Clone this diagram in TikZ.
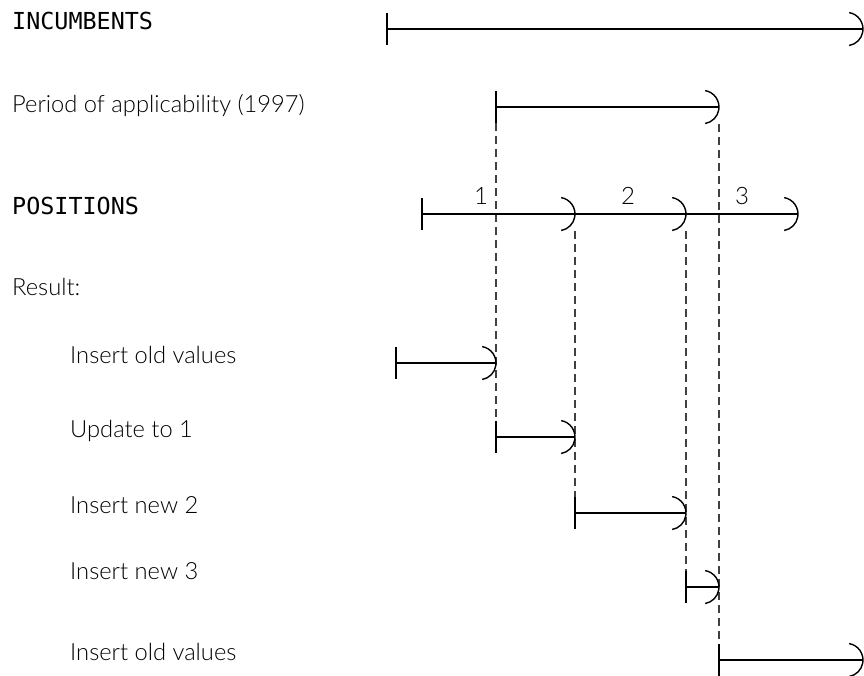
\documentclass[tikz,border=0pt]{standalone}
\usepackage{fontspec}
\setmainfont{Lato Light}
\newfontfamily\monofont{DejaVu Sans Mono}
\begin{document}
\begin{tikzpicture}[x=1pt,y=-1pt,
  lbl/.style={anchor=base west,inner sep=0pt,font=\fontsize{23.7}{28}\selectfont},
  mono/.style={anchor=base west,inner sep=0pt,font=\monofont\fontsize{23.4}{28}\selectfont},
  num/.style={anchor=base,inner sep=0pt,font=\fontsize{24}{28}\selectfont},
  ln/.style={line width=1.4pt,black},
  dsh/.style={line width=1.3pt,black!75,dash pattern=on 8pt off 5pt}]
\useasboundingbox (0,0) rectangle (864,675);
\newcommand\ivl[2]{%
  \draw[ln] (#1) -- (#2);
  \draw[ln] ([yshift=16pt]#1) -- ([yshift=-16pt]#1);
  \draw[ln] ([xshift=-13.8pt,yshift=16.4pt]#2) arc[start angle=80,end angle=-80,radius=16.7pt];}
% labels
\node[mono] (tinc) at (12,29) {INCUMBENTS};
\node[lbl] (tper) at (12,112) {Period of applicability (1997)};
\node[mono] (tpos) at (12,214) {POSITIONS};
\node[lbl] (tres) at (12,295) {Result:};
\node[lbl] (tr1) at (70,363) {Insert old values};
\node[lbl] (tr2) at (70,437) {Update to 1};
\node[lbl] (tr3) at (70,513) {Insert new 2};
\node[lbl] (tr4) at (70,579) {Insert new 3};
\node[lbl] (tr5) at (70,660) {Insert old values};
\node[num] (n1) at (481,204) {1};
\node[num] (n2) at (628,204) {2};
\node[num] (n3) at (742,204) {3};
% coordinates
\coordinate (a1) at (387,29);  \coordinate (a2) at (863,29);
\coordinate (b1) at (496,107); \coordinate (b2) at (719,107);
\coordinate (c0) at (422,214); \coordinate (c1) at (575,214);
\coordinate (c2) at (686,214); \coordinate (c3) at (798,214);
\coordinate (d1) at (396,363); \coordinate (d2) at (496,363);
\coordinate (e1) at (496,437); \coordinate (e2) at (575,437);
\coordinate (f1) at (575,513); \coordinate (f2) at (686,513);
\coordinate (g1) at (686,587); \coordinate (g2) at (719,587);
\coordinate (h1) at (719,660); \coordinate (h2) at (863,660);
% dashed guides
\draw[dsh] ([yshift=-16pt]b1) -- ([yshift=16pt]e1);
\draw[dsh] ([yshift=-17pt]b2) -- ([yshift=16pt]h1);
\draw[dsh] ([yshift=-17pt]c1) -- ([yshift=16pt]f1);
\draw[dsh] ([yshift=-17pt]c2) -- ([yshift=16pt]g1);
% intervals
\ivl{a1}{a2}
\ivl{b1}{b2}
\draw[ln] (c0) -- (c3);
\draw[ln] ([yshift=16pt]c0) -- ([yshift=-16pt]c0);
\foreach \p in {c1,c2,c3}{\draw[ln] ([xshift=-13.8pt,yshift=16.4pt]\p) arc[start angle=80,end angle=-80,radius=16.7pt];}
\ivl{d1}{d2}
\ivl{e1}{e2}
\ivl{f1}{f2}
\ivl{g1}{g2}
\ivl{h1}{h2}
\end{tikzpicture}
\end{document}
